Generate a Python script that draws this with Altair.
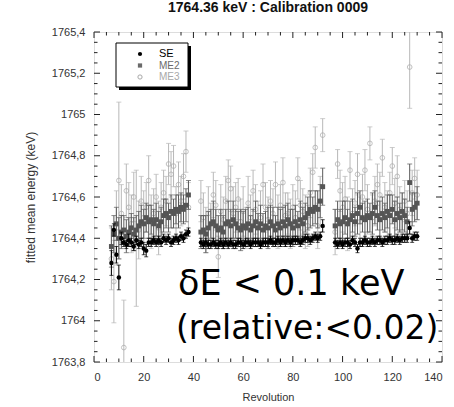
import altair as alt
import pandas as pd

# ---------------- data ----------------
rev_seg1 = list(range(7, 39))     # 32 revolutions
rev_seg2 = list(range(43, 93))    # 50 revolutions
rev_seg3 = list(range(97, 131))   # 34 revolutions
revs = rev_seg1 + rev_seg2 + rev_seg3

se_vals = [
    1764.28, 1764.44, 1764.32, 1764.21, 1764.40, 1764.38, 1764.37, 1764.39, 1764.38, 1764.36,
    1764.39, 1764.37, 1764.38, 1764.35, 1764.34, 1764.38, 1764.38, 1764.39, 1764.38, 1764.39,
    1764.38, 1764.40, 1764.39, 1764.40, 1764.38, 1764.39, 1764.40, 1764.39, 1764.41, 1764.40,
    1764.42, 1764.43,
    1764.38, 1764.37, 1764.38, 1764.37, 1764.37, 1764.38, 1764.37, 1764.37, 1764.38, 1764.37,
    1764.38, 1764.37, 1764.38, 1764.37, 1764.37, 1764.38, 1764.38, 1764.37, 1764.38, 1764.38,
    1764.37, 1764.38, 1764.38, 1764.38, 1764.37, 1764.38, 1764.38, 1764.38, 1764.39, 1764.38,
    1764.38, 1764.39, 1764.38, 1764.39, 1764.38, 1764.39, 1764.38, 1764.39, 1764.39, 1764.39,
    1764.38, 1764.39, 1764.40, 1764.40, 1764.39, 1764.40, 1764.41, 1764.40, 1764.41, 1764.46,
    1764.38, 1764.37, 1764.38, 1764.37, 1764.38, 1764.38, 1764.37, 1764.39, 1764.38, 1764.35,
    1764.38, 1764.38, 1764.39, 1764.38, 1764.38, 1764.39, 1764.38, 1764.39, 1764.39, 1764.38,
    1764.39, 1764.39, 1764.40, 1764.39, 1764.39, 1764.40, 1764.39, 1764.40, 1764.40, 1764.40,
    1764.45, 1764.40, 1764.41, 1764.41,
]
se_err = [
    0.06, 0.03, 0.04, 0.06, 0.03, 0.02, 0.02, 0.03, 0.02, 0.02,
    0.02, 0.02, 0.02, 0.03, 0.03, 0.02, 0.02, 0.02, 0.02, 0.02,
    0.02, 0.02, 0.02, 0.02, 0.02, 0.02, 0.02, 0.02, 0.02, 0.02,
    0.02, 0.02,
    0.02, 0.02, 0.02, 0.02, 0.02, 0.02, 0.02, 0.02, 0.02, 0.02,
    0.02, 0.02, 0.02, 0.02, 0.02, 0.02, 0.02, 0.02, 0.02, 0.02,
    0.02, 0.02, 0.02, 0.02, 0.02, 0.02, 0.02, 0.02, 0.02, 0.02,
    0.02, 0.02, 0.02, 0.02, 0.02, 0.02, 0.02, 0.02, 0.02, 0.02,
    0.02, 0.02, 0.02, 0.02, 0.02, 0.02, 0.02, 0.02, 0.02, 0.03,
    0.02, 0.02, 0.02, 0.02, 0.02, 0.02, 0.02, 0.02, 0.02, 0.02,
    0.02, 0.02, 0.02, 0.02, 0.02, 0.02, 0.02, 0.02, 0.02, 0.02,
    0.02, 0.02, 0.02, 0.02, 0.02, 0.02, 0.02, 0.02, 0.02, 0.02,
    0.03, 0.02, 0.02, 0.02,
]

me2_vals = [
    1764.36, 1764.42, 1764.47, 1764.40, 1764.43, 1764.44, 1764.41, 1764.43, 1764.45, 1764.42,
    1764.44, 1764.46, 1764.48, 1764.47, 1764.50, 1764.48, 1764.49, 1764.47, 1764.49, 1764.46,
    1764.48, 1764.51, 1764.52, 1764.50, 1764.53, 1764.52, 1764.54, 1764.53, 1764.55, 1764.54,
    1764.56, 1764.61,
    1764.43, 1764.44, 1764.42, 1764.45, 1764.47, 1764.48, 1764.46, 1764.44, 1764.45, 1764.43,
    1764.47, 1764.48, 1764.46, 1764.49, 1764.47, 1764.45, 1764.44, 1764.46, 1764.45, 1764.47,
    1764.44, 1764.46, 1764.48, 1764.45, 1764.47, 1764.44, 1764.46, 1764.45, 1764.48, 1764.46,
    1764.44, 1764.47, 1764.45, 1764.48, 1764.46, 1764.49, 1764.47, 1764.45, 1764.48, 1764.46,
    1764.49, 1764.47, 1764.50, 1764.52, 1764.54, 1764.53, 1764.55, 1764.54, 1764.58, 1764.65,
    1764.46, 1764.49, 1764.47, 1764.48, 1764.50, 1764.47, 1764.49, 1764.51, 1764.48, 1764.52,
    1764.55, 1764.50, 1764.49, 1764.51, 1764.50, 1764.52, 1764.55, 1764.51, 1764.49, 1764.52,
    1764.50, 1764.53, 1764.51, 1764.54, 1764.49, 1764.52, 1764.50, 1764.53, 1764.51, 1764.48,
    1764.67, 1764.54, 1764.55, 1764.57,
]
me2_err = [
    0.10, 0.09, 0.08, 0.10, 0.08, 0.07, 0.08, 0.07, 0.07, 0.08,
    0.07, 0.07, 0.08, 0.07, 0.07, 0.08, 0.07, 0.07, 0.08, 0.07,
    0.07, 0.08, 0.07, 0.07, 0.08, 0.07, 0.07, 0.08, 0.07, 0.07,
    0.08, 0.07,
    0.08, 0.07, 0.09, 0.08, 0.07, 0.10, 0.08, 0.07, 0.09, 0.08,
    0.07, 0.10, 0.08, 0.09, 0.07, 0.08, 0.10, 0.07, 0.09, 0.08,
    0.07, 0.08, 0.10, 0.07, 0.09, 0.08, 0.07, 0.10, 0.08, 0.09,
    0.07, 0.08, 0.09, 0.07, 0.10, 0.08, 0.07, 0.09, 0.08, 0.07,
    0.09, 0.08, 0.07, 0.08, 0.09, 0.07, 0.08, 0.09, 0.08, 0.09,
    0.08, 0.09, 0.07, 0.10, 0.08, 0.07, 0.09, 0.08, 0.07, 0.10,
    0.08, 0.07, 0.09, 0.08, 0.07, 0.10, 0.08, 0.07, 0.09, 0.08,
    0.07, 0.08, 0.10, 0.07, 0.09, 0.08, 0.07, 0.09, 0.08, 0.07,
    0.09, 0.08, 0.07, 0.08,
]

me3_vals = [
    1764.30, 1764.19, 1764.45, 1764.68, 1764.52, 1763.87, 1764.63, 1764.55, 1764.47, 1764.60,
    1764.40, 1764.44, 1764.58, 1764.50, 1764.55, 1764.68, 1764.48, 1764.52, 1764.60, 1764.45,
    1764.55, 1764.62, 1764.58, 1764.76, 1764.71, 1764.75, 1764.52, 1764.66, 1764.58, 1764.70,
    1764.82, 1764.55,
    1764.58, 1764.50, 1764.44, 1764.52, 1764.47, 1764.61, 1764.56, 1764.31, 1764.53, 1764.49,
    1764.58, 1764.68, 1764.64, 1764.52, 1764.55, 1764.59, 1764.48, 1764.53, 1764.45, 1764.57,
    1764.50, 1764.63, 1764.54, 1764.47, 1764.50, 1764.66, 1764.55, 1764.49, 1764.58, 1764.52,
    1764.66, 1764.48, 1764.56, 1764.67, 1764.51, 1764.52, 1764.47, 1764.55, 1764.50, 1764.69,
    1764.56, 1764.53, 1764.48, 1764.46, 1764.62, 1764.72, 1764.84, 1764.46, 1764.58, 1764.90,
    1764.43, 1764.76, 1764.63, 1764.55, 1764.59, 1764.47, 1764.73, 1764.52, 1764.57, 1764.71,
    1764.48, 1764.60, 1764.73, 1764.54, 1764.86, 1764.50, 1764.58, 1764.66, 1764.61, 1764.79,
    1764.55, 1764.52, 1764.62, 1764.75, 1764.57, 1764.70, 1764.54, 1764.50, 1764.58, 1764.52,
    1765.23, 1764.62, 1764.69, 1764.61,
]
me3_err = [
    0.15, 0.20, 0.18, 0.38, 0.14, 0.23, 0.13, 0.12, 0.14, 0.12,
    0.33, 0.14, 0.12, 0.13, 0.12, 0.12, 0.13, 0.12, 0.11, 0.13,
    0.12, 0.11, 0.12, 0.10, 0.11, 0.10, 0.13, 0.11, 0.12, 0.11,
    0.10, 0.12,
    0.10, 0.12, 0.11, 0.13, 0.10, 0.11, 0.12, 0.10, 0.13, 0.11,
    0.12, 0.10, 0.11, 0.13, 0.12, 0.10, 0.11, 0.12, 0.10, 0.13,
    0.11, 0.10, 0.12, 0.11, 0.13, 0.10, 0.12, 0.11, 0.10, 0.12,
    0.11, 0.13, 0.10, 0.12, 0.11, 0.10, 0.12, 0.11, 0.13, 0.10,
    0.12, 0.11, 0.13, 0.10, 0.12, 0.09, 0.10, 0.11, 0.12, 0.08,
    0.11, 0.07, 0.10, 0.12, 0.11, 0.13, 0.09, 0.12, 0.11, 0.10,
    0.12, 0.11, 0.10, 0.12, 0.08, 0.11, 0.12, 0.10, 0.11, 0.09,
    0.12, 0.11, 0.10, 0.09, 0.12, 0.10, 0.11, 0.12, 0.10, 0.11,
    0.20, 0.11, 0.10, 0.12,
]

x_major = [0, 20, 40, 60, 80, 100, 120, 140]
x_minor = [5, 10, 15, 25, 30, 35, 45, 50, 55, 65, 70, 75, 85, 90, 95,
           105, 110, 115, 125, 130, 135]
y_major = [1763.8, 1764.0, 1764.2, 1764.4, 1764.6, 1764.8, 1765.0, 1765.2, 1765.4]
y_minor = [1763.85, 1763.9, 1763.95, 1764.05, 1764.1, 1764.15, 1764.25, 1764.3,
           1764.35, 1764.45, 1764.5, 1764.55, 1764.65, 1764.7, 1764.75, 1764.85,
           1764.9, 1764.95, 1765.05, 1765.1, 1765.15, 1765.25, 1765.3, 1765.35]

title_text = "1764.36 keV : Calibration 0009"
x_title = "Revolution"
y_title = "fitted mean energy (keV)"
note_line1 = "δE < 0.1 keV"
note_line2 = "(relative:<0.02)"

# ---------------- build tables ----------------
def series_df(vals, errs):
    d = pd.DataFrame({"rev": revs, "E": vals, "err": errs})
    d["lo"] = d["E"] - d["err"]
    d["hi"] = d["E"] + d["err"]
    return d

df_se = series_df(se_vals, se_err)
df_me2 = series_df(me2_vals, me2_err)
df_me3 = series_df(me3_vals, me3_err)

W, H = 348, 330
FONT = "Liberation Sans"

xscale = alt.Scale(domain=[0, 140], nice=False, zero=False)
yscale = alt.Scale(domain=[1763.8, 1765.4], nice=False, zero=False)
xaxis = alt.Axis(values=x_major, ticks=False, domain=False, grid=False, title=x_title,
                 labelFont=FONT, labelFontSize=11, labelColor="#333", labelPadding=9,
                 titleFont=FONT, titleFontSize=11, titleFontWeight="normal",
                 titleColor="#333", titlePadding=9)
yaxis = alt.Axis(values=y_major, ticks=False, domain=False, grid=False, title=y_title,
                 labelExpr="abs(round(datum.value*10) % 10) == 0 ? format(datum.value, 'd') : replace(format(datum.value, '.1f'), '.', ',')",
                 labelFont=FONT, labelFontSize=11, labelColor="#333", labelPadding=9,
                 titleFont=FONT, titleFontSize=12, titleFontWeight="normal",
                 titleColor="#333", titlePadding=14)


def X(f):
    return alt.X(f, type="quantitative", scale=xscale, axis=xaxis)


def Y(f):
    return alt.Y(f, type="quantitative", scale=yscale, axis=yaxis)


def err_layers(d, color, cap):
    base = alt.Chart(d)
    stem = base.mark_rule(color=color, strokeWidth=1, clip=True).encode(
        x=X("rev"), y=Y("lo"), y2="hi")
    top = base.mark_tick(color=color, orient="horizontal", size=cap, thickness=1, clip=True).encode(
        x=X("rev"), y=Y("hi"))
    bot = base.mark_tick(color=color, orient="horizontal", size=cap, thickness=1, clip=True).encode(
        x=X("rev"), y=Y("lo"))
    return [stem, top, bot]


layers = []
layers += err_layers(df_me3, "#b8b8b8", 5)
layers.append(alt.Chart(df_me3).mark_point(shape="circle", filled=False, color="#a8a8a8",
                                           size=22, strokeWidth=1, clip=True)
              .encode(x=X("rev"), y=Y("E")))
layers += err_layers(df_me2, "#5a5a5a", 5)
layers.append(alt.Chart(df_me2).mark_point(shape="square", filled=True, color="#555555",
                                           size=24, opacity=1, clip=True)
              .encode(x=X("rev"), y=Y("E")))
layers += err_layers(df_se, "#000000", 4)
layers.append(alt.Chart(df_se).mark_point(shape="circle", filled=True, color="#000000",
                                          size=20, opacity=1, clip=True)
              .encode(x=X("rev"), y=Y("E")))

# inward ticks on all four sides
xt_major = pd.DataFrame({"t": x_major})
xt_minor = pd.DataFrame({"t": x_minor})
yt_major = pd.DataFrame({"t": y_major})
yt_minor = pd.DataFrame({"t": y_minor})
TC = "#222222"
for dfx, ln in ((xt_major, 6), (xt_minor, 3.5)):
    layers.append(alt.Chart(dfx).mark_rule(color=TC, strokeWidth=1).encode(
        x=X("t"), y=alt.value(H), y2=alt.value(H - ln)))
    layers.append(alt.Chart(dfx).mark_rule(color=TC, strokeWidth=1).encode(
        x=X("t"), y=alt.value(0), y2=alt.value(ln)))
for dfy, ln in ((yt_major, 6), (yt_minor, 3.5)):
    layers.append(alt.Chart(dfy).mark_rule(color=TC, strokeWidth=1).encode(
        y=Y("t"), x=alt.value(0), x2=alt.value(ln)))
    layers.append(alt.Chart(dfy).mark_rule(color=TC, strokeWidth=1).encode(
        y=Y("t"), x=alt.value(W), x2=alt.value(W - ln)))

# legend box (shadow + box)
one = pd.DataFrame({"k": [0]})
layers.append(alt.Chart(one).mark_rect(color="#000000").encode(
    x=alt.value(25), x2=alt.value(97), y=alt.value(14), y2=alt.value(58)))
layers.append(alt.Chart(one).mark_rect(fill="#ffffff", stroke="#000000", strokeWidth=1).encode(
    x=alt.value(22), x2=alt.value(94), y=alt.value(11), y2=alt.value(55)))
leg_items = [("SE", "circle", True, "#000000", 22, 11),
             ("ME2", "square", True, "#6a6a6a", 33.5, 10),
             ("ME3", "circle", False, "#a8a8a8", 45, 10)]
for name, shp, filled, col, yy, fs in leg_items:
    layers.append(alt.Chart(one).mark_point(shape=shp, filled=filled, color=col, size=18,
                                            opacity=1, strokeWidth=1).encode(
        x=alt.value(46), y=alt.value(yy)))
    layers.append(alt.Chart(one).mark_text(text=name, font=FONT, fontSize=fs, color=col,
                                           align="left", baseline="middle").encode(
        x=alt.value(65), y=alt.value(yy)))

# big annotation
layers.append(alt.Chart(one).mark_text(text=note_line1, font="DejaVu Sans", fontSize=35,
                                       color="#000000", align="left", baseline="alphabetic").encode(
    x=alt.value(84), y=alt.value(263)))
layers.append(alt.Chart(one).mark_text(text=note_line2, font="DejaVu Sans", fontSize=33,
                                       color="#000000", align="left", baseline="alphabetic").encode(
    x=alt.value(82), y=alt.value(307)))

chart = alt.layer(*layers).properties(
    width=W, height=H,
    title=alt.TitleParams(title_text, font=FONT, fontSize=14, fontWeight="bold",
                          color="#111111", anchor="middle", offset=11),
    autosize=alt.AutoSizeParams(type="none"),
    padding={"left": 94, "top": 32, "right": 12, "bottom": 45},
).configure_view(stroke="#222222", strokeWidth=1).configure(background="#ffffff")

chart.save("out.html", embed_options={"renderer": "svg", "actions": False})
